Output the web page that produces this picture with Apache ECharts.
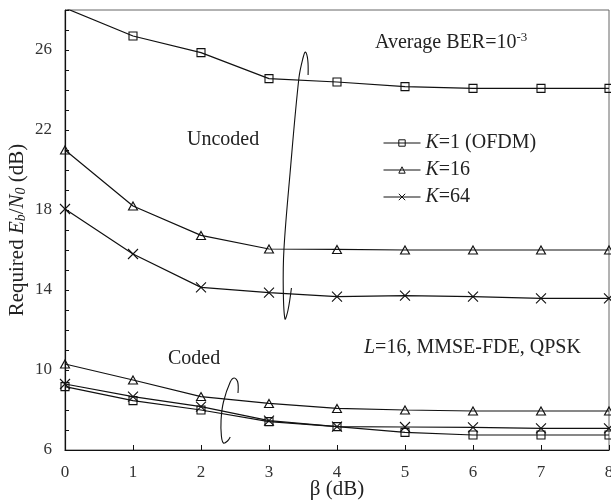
<!DOCTYPE html>
<html><head><meta charset="utf-8">
<script src="https://cdn.jsdelivr.net/npm/echarts@6/dist/echarts.min.js"></script>
<style>html,body{margin:0;padding:0;background:#fff}#c{width:611px;height:504px}</style>
</head><body><div id="c"></div>
<script>
const beta = [0,1,2,3,4,5,6,7,8];
const uncodedK1  = [28.1, 26.7, 25.87, 24.57, 24.4, 24.17, 24.08, 24.08, 24.08];
const uncodedK16 = [21.0, 18.2, 16.73, 16.05, 16.03, 16.0, 16.0, 16.0, 16.0];
const uncodedK64 = [18.05, 15.8, 14.13, 13.87, 13.67, 13.72, 13.67, 13.58, 13.58];
const codedK1  = [9.17, 8.47, 8.0, 7.42, 7.17, 6.88, 6.75, 6.75, 6.75];
const codedK16 = [10.3, 9.5, 8.67, 8.33, 8.08, 8.0, 7.95, 7.95, 7.95];
const codedK64 = [9.3, 8.67, 8.17, 7.47, 7.17, 7.15, 7.13, 7.08, 7.08];
const yTickLabels = [6,10,14,18,22,26];
const xTickLabels = [0,1,2,3,4,5,6,7,8];
const legendNames = ['K=1 (OFDM)','K=16','K=64'];
// annotation loop outlines (data space)
const uncodedLoop = [[3.575,24.75],[3.57,25.5],[3.535,25.9],[3.50,25.6],[3.44,24.6],[3.31,19.85],[3.22,16.05],[3.21,14.0],[3.235,12.55],[3.28,13.0],[3.33,14.1]];
const codedLoop = [[2.544,8.85],[2.54,9.4],[2.49,9.6],[2.43,9.4],[2.33,8.4],[2.295,7.5],[2.30,6.7],[2.33,6.35],[2.39,6.45],[2.43,6.65]];

const FONT = '"Liberation Serif","DejaVu Serif",serif';
const INK = '#111';
const TXT = '#222';
const FS = 20;
const symbols = {
  'K=1 (OFDM)': {symbol:'rect', size:[8,8]},
  'K=16': {symbol:'triangle', size:[9,8]},
  'K=64': {symbol:'path://M0,0L10,10M0,10L10,0', size:[10,10]}
};
function mk(name, vals){
  const s = symbols[name];
  return {
    name, type:'line', data: beta.map((b,i)=>[b, vals[i]]),
    symbol: s.symbol, symbolSize: s.size, showAllSymbol:true, clip:true,
    lineStyle:{color:INK, width:1.2},
    itemStyle:{color:'rgba(255,255,255,0)', borderColor:INK, borderWidth:1.1},
    emphasis:{disabled:true}, animation:false
  };
}
const chart = echarts.init(document.getElementById('c'), null, {renderer:'canvas'});
chart.setOption({
  animation:false,
  backgroundColor:'#fff',
  grid:{left:65, right:2, top:10, bottom:54, containLabel:false, outerBoundsMode:'none',
    show:true, borderColor:'#666', borderWidth:1},
  xAxis:{type:'value', min:0, max:8, interval:1,
    name:'β (dB)', nameLocation:'middle', nameGap:29, nameMoveOverlap:false,
    nameTextStyle:{fontFamily:FONT, fontSize:21, color:TXT},
    axisLine:{lineStyle:{color:INK, width:1.2}},
    axisTick:{inside:true, length:5, lineStyle:{color:INK}},
    axisLabel:{fontFamily:FONT, fontSize:17, color:'#333', margin:14,
      formatter:v=> xTickLabels.includes(v) ? String(v) : ''},
    splitLine:{show:false}},
  yAxis:{type:'value', min:6, max:28, interval:1,
    name:'{n|Required }{i|E}{s|b}{n|/}{i|N}{s|0}{n| (dB)}', nameLocation:'middle', nameGap:37, nameMoveOverlap:false,
    nameTextStyle:{fontFamily:FONT, fontSize:21, color:TXT,
      rich:{n:{fontFamily:FONT, fontSize:21, color:TXT},
            i:{fontFamily:FONT, fontSize:21, fontStyle:'italic', color:TXT},
            s:{fontFamily:FONT, fontSize:14, fontStyle:'italic', color:TXT, verticalAlign:'bottom', padding:[7,0,0,0]}}},
    axisLine:{show:true, lineStyle:{color:INK, width:1.2}},
    axisTick:{inside:true, length:4, lineStyle:{color:INK}},
    axisLabel:{fontFamily:FONT, fontSize:17, color:'#333', margin:13,
      formatter:v=> yTickLabels.includes(v) ? String(v) : ''},
    splitLine:{show:false}},
  legend:{orient:'vertical', left:378, top:127, padding:5, itemWidth:37, itemHeight:8, itemGap:5,
    data:legendNames, selectedMode:false,
    lineStyle:{width:1}, itemStyle:{borderWidth:1},
    textStyle:{fontFamily:FONT, fontSize:FS, color:TXT, lineHeight:22,
      rich:{i:{fontFamily:FONT, fontSize:FS, fontStyle:'italic', color:TXT}, n:{fontFamily:FONT, fontSize:FS, color:TXT}}},
    formatter:name=>'{i|K}{n|' + name.slice(1) + '}'},
  series:[
    mk('K=1 (OFDM)', uncodedK1), mk('K=16', uncodedK16), mk('K=64', uncodedK64),
    mk('K=1 (OFDM)', codedK1), mk('K=16', codedK16), mk('K=64', codedK64)
  ]
});
const toPx = pts => pts.map(p=>chart.convertToPixel({gridIndex:0}, p));
const txt = (left, top, text, rich) => ({type:'text', left, top, silent:true,
  style:{text, fontFamily:FONT, fontSize:FS, fill:TXT, rich}});
chart.setOption({graphic:[
  {type:'polyline', silent:true, shape:{points:toPx(uncodedLoop), smooth:0.35}, style:{stroke:INK, lineWidth:1.1, fill:null}},
  {type:'polyline', silent:true, shape:{points:toPx(codedLoop), smooth:0.35}, style:{stroke:INK, lineWidth:1.1, fill:null}},
  txt(375, 31, '{n|Average BER=10}{sup|-3}', {n:{fontFamily:FONT, fontSize:FS, fill:TXT}, sup:{fontFamily:FONT, fontSize:13, fill:TXT, verticalAlign:'top', padding:[0,0,10,0]}}),
  txt(187, 130, 'Uncoded'),
  txt(168, 349, 'Coded'),
  txt(364, 338, '{i|L}{n|=16, MMSE-FDE, QPSK}', {i:{fontFamily:FONT, fontSize:FS, fontStyle:'italic', fill:TXT}, n:{fontFamily:FONT, fontSize:FS, fill:TXT}})
]});
</script></body></html>
